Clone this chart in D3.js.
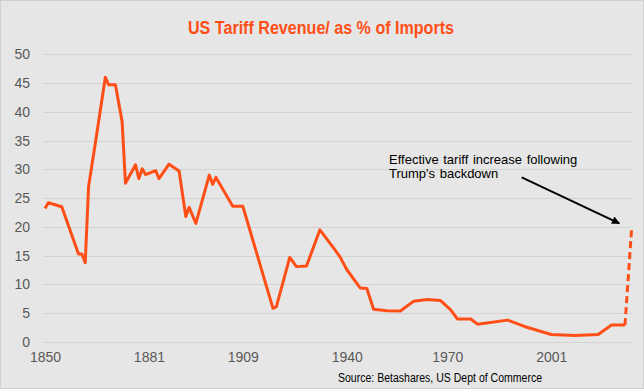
<!DOCTYPE html>
<html>
<head>
<meta charset="utf-8">
<script src="https://cdn.jsdelivr.net/npm/d3@7"></script>
<style>
  html, body { margin: 0; padding: 0; background: #fff; }
  svg { display: block; }
</style>
</head>
<body>
<svg id="chart" width="644" height="389"></svg>
<script>
  // Historical tariff revenue as % of imports
  const years = [1850, 1851, 1855, 1860, 1861, 1862, 1863, 1865, 1868, 1869, 1871, 1873, 1874,
    1877, 1878, 1879, 1880, 1883, 1884, 1887, 1890, 1892, 1893, 1895, 1899, 1900, 1901, 1906,
    1909, 1918, 1919, 1923, 1925, 1928, 1932, 1936, 1938, 1940, 1944, 1946, 1948, 1952, 1956,
    1960, 1964, 1968, 1971, 1973, 1977, 1979, 1988, 1993, 2001, 2008, 2015, 2019, 2023];
  const values = [23.2, 24.2, 23.5, 15.3, 15.3, 13.8, 27.0, 34.5, 46.0, 44.7, 44.7, 38.3, 27.6,
    30.8, 28.4, 30.1, 29.1, 29.8, 28.4, 30.9, 29.7, 21.8, 23.4, 20.6, 29.0, 27.4, 28.6, 23.6,
    23.6, 5.85, 6.1, 14.7, 13.1, 13.2, 19.5, 16.4, 14.8, 12.6, 9.4, 9.3, 5.7, 5.45, 5.4,
    7.1, 7.4, 7.2, 5.6, 4.0, 4.0, 3.1, 3.8, 2.7, 1.3, 1.15, 1.3, 2.95, 2.95];

  // Projected jump (dashed)
  const projYears = [2023, 2025];
  const projValues = [2.95, 19.9];

  const xTicks = [1850, 1881, 1909, 1940, 1970, 2001];
  const yTicks = [0, 5, 10, 15, 20, 25, 30, 35, 40, 45, 50];

  const titleText = "US Tariff Revenue/ as % of Imports";
  const noteLines = ["Effective tariff increase following", "Trump's backdown"];
  const sourceText = "Source: Betashares, US Dept of Commerce";

  const orange = "#ff4f17";
  const svg = d3.select("#chart");

  // background + frame
  svg.append("rect")
    .attr("x", 0.5).attr("y", 0.5)
    .attr("width", 643).attr("height", 388)
    .attr("fill", "#e6e6e6")
    .attr("stroke", "#d0d0d0");

  const x = d3.scaleLinear().domain([1850, 2025]).range([45, 631.7]);
  const y = d3.scaleLinear().domain([0, 50]).range([342, 54.3]);

  // gridlines
  svg.append("g")
    .selectAll("line")
    .data(yTicks)
    .enter()
    .append("line")
    .attr("x1", 43).attr("x2", 633)
    .attr("y1", d => Math.round(y(d)) + 0.5)
    .attr("y2", d => Math.round(y(d)) + 0.5)
    .attr("stroke", "#d3d3d3")
    .attr("stroke-width", 1);

  // y axis labels
  const yAxis = svg.append("g")
    .attr("transform", "translate(30,0)")
    .call(d3.axisLeft(y).tickValues(yTicks).tickSize(0).tickPadding(0));
  yAxis.select(".domain").remove();
  yAxis.selectAll("text")
    .attr("fill", "#595959")
    .style("font-family", "'Liberation Sans', Arial, sans-serif")
    .style("font-size", "14px");

  // x axis labels
  const xAxis = svg.append("g")
    .attr("transform", "translate(0,352)")
    .call(d3.axisBottom(x).tickValues(xTicks).tickFormat(d3.format("d")).tickSize(0).tickPadding(0));
  xAxis.select(".domain").remove();
  xAxis.selectAll("text")
    .attr("fill", "#595959")
    .style("font-family", "'Liberation Sans', Arial, sans-serif")
    .style("font-size", "14px");

  // main line
  const line = d3.line()
    .x(d => x(d[0]))
    .y(d => y(d[1]));

  svg.append("path")
    .datum(years.map((yr, i) => [yr, values[i]]))
    .attr("d", line)
    .attr("fill", "none")
    .attr("stroke", orange)
    .attr("stroke-width", 3)
    .attr("stroke-linejoin", "round");

  svg.append("path")
    .datum(projYears.map((yr, i) => [yr, projValues[i]]))
    .attr("d", line)
    .attr("fill", "none")
    .attr("stroke", orange)
    .attr("stroke-width", 3)
    .attr("stroke-dasharray", "7,4");

  // title (condensed to match the narrow face)
  svg.append("text")
    .attr("x", 188).attr("y", 33.5)
    .attr("fill", orange)
    .attr("textLength", 266)
    .attr("lengthAdjust", "spacingAndGlyphs")
    .style("font-family", "'Liberation Sans Narrow', 'Arial Narrow', sans-serif")
    .style("font-weight", "bold")
    .style("font-size", "18px")
    .text(titleText);

  // annotation
  const note = svg.append("text")
    .attr("x", 389)
    .attr("y", 163.5)
    .attr("fill", "#000")
    .style("font-family", "'Liberation Sans', Arial, sans-serif")
    .style("font-size", "13px")
    .style("word-spacing", "1px");
  note.selectAll("tspan")
    .data(noteLines)
    .enter()
    .append("tspan")
    .attr("x", 389)
    .attr("dy", (d, i) => i === 0 ? 0 : 14.3)
    .text(d => d);

  svg.append("defs").append("marker")
    .attr("id", "arrowhead")
    .attr("viewBox", "0 0 10 10")
    .attr("refX", 9).attr("refY", 5)
    .attr("markerWidth", 5).attr("markerHeight", 4)
    .attr("orient", "auto")
    .append("path")
    .attr("d", "M0,0 L10,5 L0,10 z")
    .attr("fill", "#000");

  svg.append("line")
    .attr("x1", 521.7).attr("y1", 177.3)
    .attr("x2", 619.3).attr("y2", 223.3)
    .attr("stroke", "#000")
    .attr("stroke-width", 2)
    .attr("marker-end", "url(#arrowhead)");

  // source
  svg.append("text")
    .attr("x", 338).attr("y", 382)
    .attr("fill", "#000")
    .attr("textLength", 204)
    .attr("lengthAdjust", "spacingAndGlyphs")
    .style("font-family", "'Liberation Sans Narrow', 'Arial Narrow', sans-serif")
    .style("font-size", "12px")
    .text(sourceText);
</script>
</body>
</html>
